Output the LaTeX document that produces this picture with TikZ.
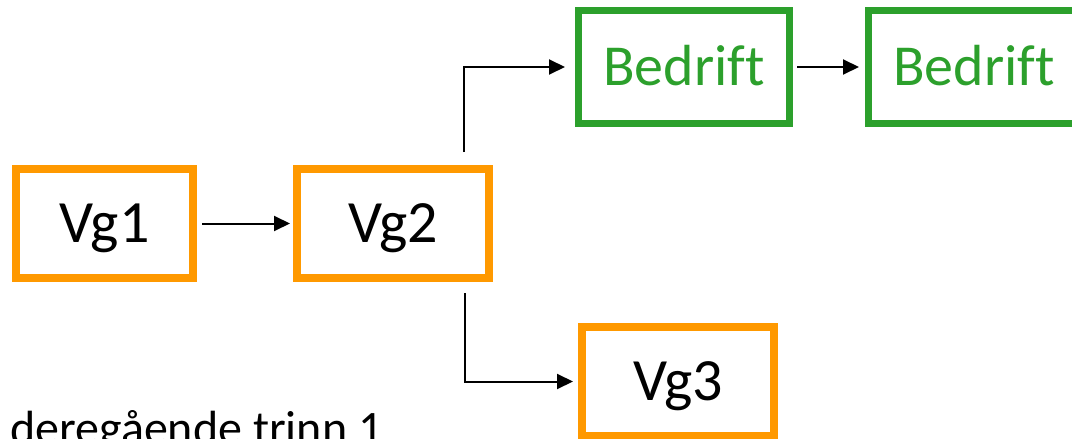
\documentclass[tikz,border=0pt]{standalone}
\usepackage{fontspec}
\setmainfont{Carlito}[Ligatures=CommonOff]
\usetikzlibrary{arrows.meta,calc}
\definecolor{vgorange}{HTML}{FF9900}
\definecolor{bgreen}{HTML}{2CA02C}
\begin{document}
\begin{tikzpicture}[x=1pt,y=-1pt,
  vgbox/.style={draw=vgorange,line width=8pt,minimum width=192pt,minimum height=109pt,inner sep=0pt,
    font=\fontsize{60}{72}\selectfont,text height=38.6pt,text depth=0pt},
  bbox/.style={draw=bgreen,line width=7pt,minimum width=211pt,minimum height=113pt,inner sep=0pt,
    text=bgreen,font=\fontsize{58}{70}\selectfont,text height=37.4pt,text depth=0pt},
  arr/.style={line width=2pt,-{Triangle[length=16pt,width=15pt]}},
]
\useasboundingbox (0,0) rectangle (1072,439);
\clip (0,0) rectangle (1072,439);
\node[vgbox,minimum width=177pt] (vg1) at (104.5,223.5) {Vg1};
\node[vgbox] (vg2) at (393,223.5) {Vg2};
\node[vgbox] (vg3) at (678,381.5) {Vg3};
\node[bbox] (b1) at (684,67) {Bedrift};
\node[bbox] (b2) at (974,67) {Bedrift};
\node[anchor=base west,font=\fontsize{48}{56}\selectfont,inner sep=0pt] (lbl) at (10,444) {deregående trinn 1};
\coordinate (up) at ($(vg2.north)+(71,-13)$);
\coordinate (down) at ($(vg2.south)+(72,11)$);
\draw[arr,shorten <=5pt,shorten >=3pt] (vg1.east) -- (vg2.west);
\draw[arr,shorten <=4pt,shorten >=6pt] (b1.east) -- (b2.west);
\draw[arr,shorten >=10pt] (up) |- (b1.west);
\draw[arr,shorten >=5pt] (down) |- (vg3.west);
\end{tikzpicture}
\end{document}
